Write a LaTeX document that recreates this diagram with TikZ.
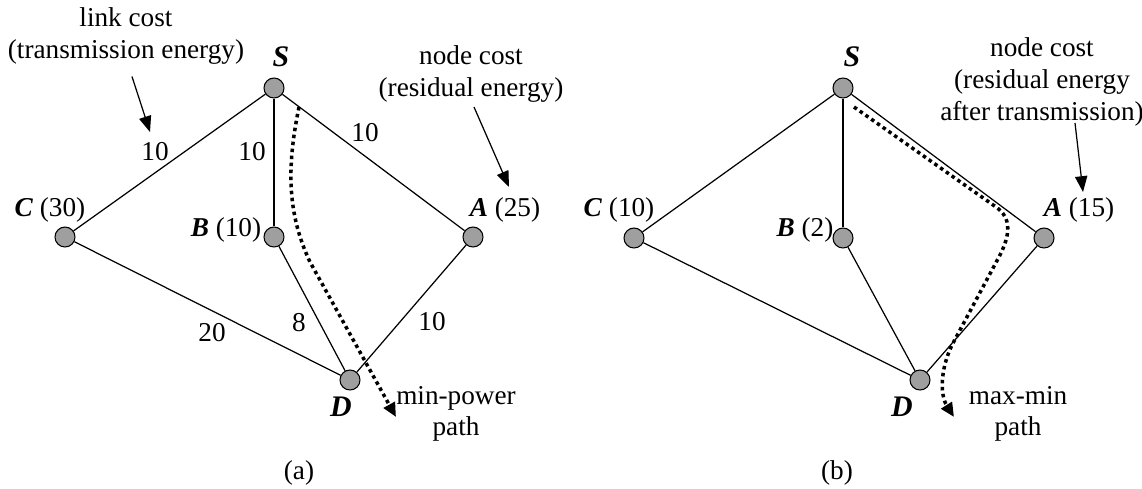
\documentclass[tikz,border=0pt]{standalone}
\usepackage{fontspec}
\setmainfont{Liberation Serif}
\usetikzlibrary{arrows.meta}

\begin{document}
\begin{tikzpicture}[x=0.02cm, y=-0.02cm,
                every node/.style={font=\fontsize{15.5}{18}\selectfont},
                vertex/.style={circle, draw, line width=0.6pt, fill=gray!75, minimum size=0.4cm, inner sep=0pt},
                link/.style={line width=0.7pt},
                pointer/.style={line width=0.7pt, -{Triangle[length=9pt, width=7pt]}},
                route/.style={line width=2pt, dash pattern=on 2pt off 2pt, -{Triangle[length=8pt, width=7pt]}},
                note/.style={align=center, inner sep=0pt}]
                \useasboundingbox (0,0) rectangle (1142,488);

                % (a) nodes
                \node[vertex] (Sa) at (274,88) {};
                \node[vertex] (Ca) at (65,237) {};
                \node[vertex] (Ba) at (274,237) {};
                \node[vertex] (Aa) at (473,237) {};
                \node[vertex] (Da) at (350,380) {};

                % (a) node names
                \node (nSa) at (281,57) {\fontsize{17}{18}\selectfont\textbf{\textit{S}}};
                \node (nCa) at (50,210) {\textbf{\textit{C}} (30)};
                \node (nBa) at (226,230) {\textbf{\textit{B}} (10)};
                \node (nAa) at (505,210) {\textbf{\textit{A}} (25)};
                \node (nDa) at (341,407) {\fontsize{17}{18}\selectfont\textbf{\textit{D}}};

                % (a) links
                \draw[link] (Sa) -- (Ca);
                \draw[link] (Sa) -- (Ba);
                \draw[link] (Sa) -- (Aa);
                \draw[link] (Ca) -- (Da);
                \draw[link] (Ba) -- (Da);
                \draw[link] (Aa) -- (Da);

                % (a) link costs
                \node (cSC) at (155,152) {10};
                \node (cSB) at (252,152) {10};
                \node (cSA) at (365,133) {10};
                \node (cCD) at (212,333) {20};
                \node (cBD) at (299,323) {8};
                \node (cAD) at (432,322) {10};

                % (a) notes
                \node[note] (linkcost) at (126,36) {link cost\\(transmission energy)};
                \node[note] (nodecosta) at (471,74) {node cost\\(residual energy)};
                \coordinate (pLa) at (150,132);
                \coordinate (pNa) at (509,187);
                \draw[pointer] (linkcost.south) ++(6,12) coordinate (qLa) -- (pLa);
                \draw[pointer] (474,107) coordinate (qNa) -- (pNa);

                % (a) min-power path
                \node[note] (minpower) at (456,414) {min-power\\path};
                \coordinate (r0a) at (299,107);
                \coordinate (r1a) at (310,262);
                \coordinate (r2a) at (396,417);
                \draw[route] (r0a) .. controls (286,170) and (288,215) .. (r1a) -- (r2a);

                \node (capa) at (299,473) {(a)};

                % (b) nodes
                \node[vertex] (Sb) at (843,88) {};
                \node[vertex] (Cb) at (634,238) {};
                \node[vertex] (Bb) at (843,238) {};
                \node[vertex] (Ab) at (1044,238) {};
                \node[vertex] (Db) at (920,380) {};

                % (b) node names
                \node (nSb) at (852,57) {\fontsize{17}{18}\selectfont\textbf{\textit{S}}};
                \node (nCb) at (619,210) {\textbf{\textit{C}} (10)};
                \node (nBb) at (805,230) {\textbf{\textit{B}} (2)};
                \node (nAb) at (1079,210) {\textbf{\textit{A}} (15)};
                \node (nDb) at (902,407) {\fontsize{17}{18}\selectfont\textbf{\textit{D}}};

                % (b) links
                \draw[link] (Sb) -- (Cb);
                \draw[link] (Sb) -- (Bb);
                \draw[link] (Sb) -- (Ab);
                \draw[link] (Cb) -- (Db);
                \draw[link] (Bb) -- (Db);
                \draw[link] (Ab) -- (Db);

                % (b) notes
                \node[note] (nodecostb) at (1042,82) {node cost\\(residual energy\\after transmission)};
                \coordinate (pNb) at (1083,192);
                \draw[pointer] (1075,123) coordinate (qNb) -- (pNb);

                % (b) max-min path
                \node[note] (maxmin) at (1018,414) {max-min\\path};
                \coordinate (r0b) at (854,107);
                \coordinate (r1b) at (996,207);
                \coordinate (r2b) at (1000,255);
                \coordinate (r3b) at (952,345);
                \coordinate (r4b) at (954,417);
                \draw[route] (r0b) -- (r1b) .. controls (1012,218) and (1010,235) .. (r2b) -- (r3b)
                    .. controls (940,370) and (940,395) .. (r4b);

                \node (capb) at (837,473) {(b)};
            \end{tikzpicture}
\end{document}
